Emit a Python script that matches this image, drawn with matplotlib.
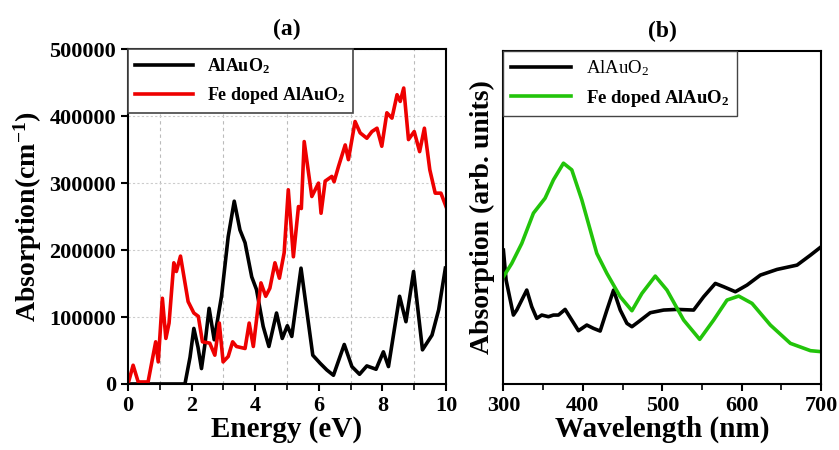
import matplotlib
matplotlib.use("Agg")
import matplotlib.pyplot as plt
from matplotlib.ticker import MultipleLocator

# (a) absorption coefficient vs energy
energy_pure = [0.0, 1.79, 1.95, 2.07, 2.2, 2.31, 2.42, 2.55, 2.71, 2.94, 3.15, 3.34, 3.52, 3.68,
               3.89, 4.04, 4.25, 4.43, 4.67, 4.85, 5.01, 5.15, 5.44, 5.81, 6.04, 6.25, 6.46,
               6.80, 7.04, 7.28, 7.51, 7.80, 8.03, 8.19, 8.54, 8.74, 8.98, 9.26, 9.56, 9.77, 9.98]
abs_pure = [0, 0, 40000, 83000, 55000, 23000, 60000, 113000, 66000, 131000, 220000, 273000,
            230000, 211000, 160000, 141000, 86000, 56000, 106000, 68000, 87000, 71000, 173000,
            43000, 31000, 21000, 13000, 59000, 26000, 14500, 27000, 22000, 48000, 26000, 131000,
            93000, 168000, 51000, 73000, 111000, 173000]

energy_fe = [0.0, 0.16, 0.32, 0.63, 0.87, 0.95, 1.08, 1.19, 1.29, 1.44, 1.52, 1.65, 1.89, 2.07,
             2.21, 2.34, 2.57, 2.73, 2.87, 2.99, 3.15, 3.29, 3.41, 3.68, 3.81, 3.94, 4.18, 4.33,
             4.46, 4.62, 4.76, 4.91, 5.04, 5.2, 5.36, 5.45, 5.54, 5.78, 5.99, 6.07, 6.2, 6.41,
             6.48, 6.62, 6.83, 6.93, 7.14, 7.30, 7.51, 7.67, 7.83, 7.98, 8.14, 8.30, 8.46, 8.56,
             8.67, 8.82, 9.0, 9.17, 9.32, 9.49, 9.66, 9.84, 10.0]
abs_fe = [0, 28000, 3000, 3000, 63000, 33000, 128000, 68000, 91000, 181000, 168000, 191000,
          123000, 106000, 101000, 63000, 61000, 43000, 91000, 33000, 41000, 63000, 56000, 53000,
          91000, 56000, 151000, 131000, 143000, 181000, 158000, 196000, 290000, 190000, 265000,
          262000, 362000, 280000, 300000, 255000, 303000, 310000, 302000, 325000, 357000, 335000,
          392000, 375000, 367000, 377000, 382000, 355000, 405000, 397000, 432000, 422000, 442000,
          365000, 377000, 347000, 382000, 320000, 285000, 285000, 265000]

# (b) absorption vs wavelength (arb. units)
wl_pure = [300, 303.4, 312.6, 316.8, 329.4, 335.7, 342, 348.3, 356.7, 363, 369.3, 377.7, 386.1,
           394.5, 405, 413.4, 421.8, 430.3, 438.7, 447.1, 455.5, 461.8, 470.2, 484.9, 501.7,
           518.5, 539.5, 552.1, 566.8, 577.3, 592, 606.7, 623.5, 644.5, 669.7, 686.6, 700]
ab_pure = [0.402, 0.312, 0.207, 0.222, 0.282, 0.232, 0.197, 0.207, 0.202, 0.207, 0.207, 0.224,
           0.192, 0.160, 0.177, 0.167, 0.159, 0.222, 0.282, 0.222, 0.182, 0.172, 0.187, 0.214,
           0.222, 0.224, 0.222, 0.262, 0.302, 0.292, 0.277, 0.297, 0.327, 0.344, 0.357, 0.387,
           0.412]

wl_fe = [300, 310.5, 323.1, 337.8, 352.5, 363, 375.6, 386.1, 398.7, 417.6, 430.3, 447.1, 461.8,
         474.4, 491.2, 505.9, 526.9, 547.1, 564.7, 581.5, 596.2, 613, 636.1, 661.3, 686.6, 700]
ab_fe = [0.322, 0.362, 0.422, 0.513, 0.558, 0.613, 0.663, 0.643, 0.553, 0.392, 0.332, 0.262,
         0.220, 0.272, 0.324, 0.282, 0.192, 0.134, 0.192, 0.252, 0.264, 0.242, 0.177, 0.122,
         0.100, 0.097]

labels = ["AlAuO$_\\mathregular{2}$", "Fe doped AlAuO$_\\mathregular{2}$"]

plt.rcParams["font.family"] = ["Liberation Serif", "DejaVu Serif"]
plt.rcParams["font.weight"] = "bold"
plt.rcParams["mathtext.default"] = "regular"

fig = plt.figure(figsize=(8.39, 4.5), dpi=100)
ax1 = fig.add_axes([0.1526, 0.1467, 0.379, 0.744])
ax2 = fig.add_axes([0.6, 0.1467, 0.3787, 0.740])

# panel (a)
ax1.plot(energy_pure, abs_pure, color="black", lw=2.6, label=labels[0], solid_joinstyle="round")
ax1.plot(energy_fe, abs_fe, color="#ee0000", lw=2.6, label=labels[1], solid_joinstyle="round")
ax1.set_xlim(0, 10)
ax1.set_ylim(0, 500000)
ax1.xaxis.set_major_locator(MultipleLocator(2))
ax1.xaxis.set_minor_locator(MultipleLocator(1))
ax1.yaxis.set_major_locator(MultipleLocator(100000))
ax1.grid(True, which="minor", axis="x", ls=(0, (3, 3)), color="#bbbbbb", lw=0.8)
ax1.grid(True, which="major", axis="y", ls=(0, (2, 2)), color="#cccccc", lw=0.8)
ax1.set_xlabel("Energy (eV)", fontsize=21, fontweight="bold", labelpad=0)
ax1.set_ylabel("Absorption(cm$^{\\mathregular{-1}}$)", fontsize=20, fontweight="bold", labelpad=4)
ax1.set_title("(a)", fontsize=17, fontweight="bold", pad=10)
leg1 = ax1.legend(loc="upper left", bbox_to_anchor=(0, 1), borderaxespad=0,
                  handlelength=3.2, fancybox=False, edgecolor="#444444", framealpha=1,
                  prop={"weight": "bold", "size": 13})
leg1.get_frame().set_linewidth(1.2)

# panel (b)
ax2.plot(wl_pure, ab_pure, color="black", lw=2.6, label=labels[0], solid_joinstyle="round")
ax2.plot(wl_fe, ab_fe, color="#22c40a", lw=2.6, label=labels[1], solid_joinstyle="round")
ax2.set_xlim(300, 700)
ax2.set_ylim(0, 1)
ax2.xaxis.set_major_locator(MultipleLocator(100))
ax2.xaxis.set_minor_locator(MultipleLocator(50))
ax2.set_yticks([])
ax2.set_xlabel("Wavelength (nm)", fontsize=21, fontweight="bold", labelpad=0)
ax2.set_ylabel("Absorption (arb. units)", fontsize=20, fontweight="bold", labelpad=6)
ax2.set_title("(b)", fontsize=17, fontweight="bold", pad=10)
leg2 = ax2.legend(loc="upper left", bbox_to_anchor=(0, 1), borderaxespad=0,
                  handlelength=3.2, fancybox=False, edgecolor="#444444", framealpha=1,
                  prop={"weight": "bold", "size": 13.5})
leg2.get_frame().set_linewidth(1.0)
leg2.get_texts()[0].set_fontweight("normal")

for ax in (ax1, ax2):
    for s in ax.spines.values():
        s.set_linewidth(1.5)
    ax.tick_params(which="major", direction="out", length=5, width=1.5, labelsize=16)
    ax.tick_params(which="minor", direction="out", length=4, width=1.2)
    for t in ax.get_xticklabels() + ax.get_yticklabels():
        t.set_fontweight("bold")

fig.savefig("out.png", dpi=100)
